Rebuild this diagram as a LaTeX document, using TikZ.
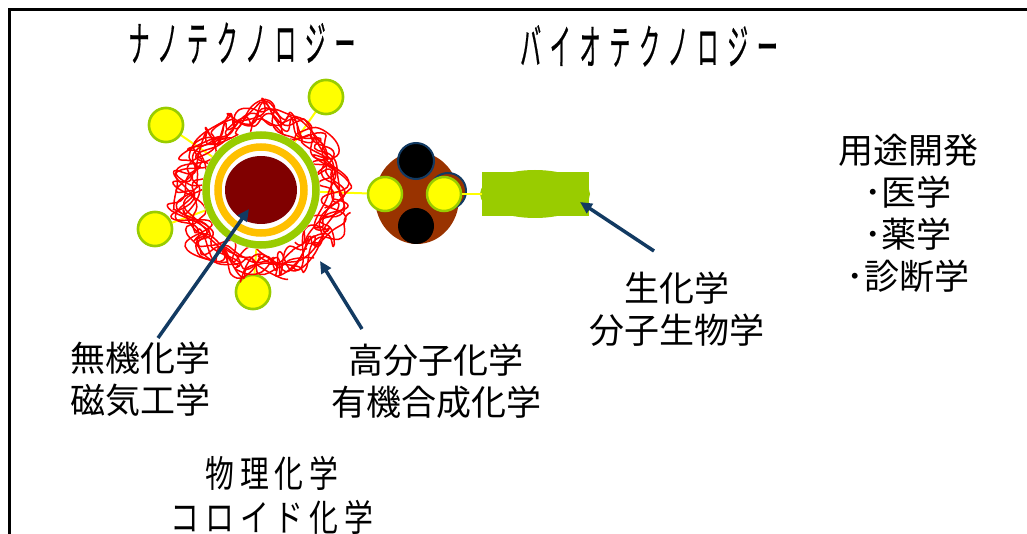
\documentclass[tikz,border=0pt]{standalone}
\usepackage{fontspec}
\newfontfamily\jp{Noto Sans CJK JP}
\newfontfamily\jptitle{Noto Sans CJK JP}[FakeStretch=0.44, LetterSpace=18, FakeBold=0.4]
\newfontfamily\jpnarrow{Noto Sans CJK JP}[FakeStretch=0.78, LetterSpace=16]
\usetikzlibrary{arrows.meta,shapes.geometric}

\definecolor{leaf}{RGB}{153,204,0}
\definecolor{amber}{RGB}{255,192,0}
\definecolor{maroonc}{RGB}{128,0,0}
\definecolor{rust}{RGB}{153,51,0}
\definecolor{navy}{RGB}{18,58,98}
\definecolor{ligand}{RGB}{255,255,0}

\tikzset{
  title/.style={font=\jptitle\fontsize{48}{52}\selectfont, inner sep=0pt},
  label/.style={font=\jp\fontsize{35}{42}\selectfont, align=center, inner sep=0pt},
  narrowlabel/.style={font=\jpnarrow\fontsize{37}{44}\selectfont, align=center, inner sep=0pt},
  ball/.style={circle, fill=ligand, draw=leaf, line width=2.5pt, minimum size=34pt, inner sep=0pt},
  darkball/.style={circle, fill=black, minimum size=36pt, inner sep=0pt},
  link/.style={draw=ligand, line width=2pt},
  pointer/.style={draw=navy, line width=3.5pt, -{Triangle[length=12pt,width=11pt]}},
  scribble/.style={draw=red, line width=1.5pt, line join=round}
}

\begin{document}
\begin{tikzpicture}[x=1pt,y=-1pt]
\useasboundingbox (0,0) rectangle (1027,534);

% frame (open at right and bottom)
\draw[line width=3pt] (9,534) -- (9,10) -- (1027,10);

% headings
\node[title] (nanoT) at (242,43) {ナノテクノロジー};
\node[title] (bioT) at (649,46) {バイオテクノロジー};

% nanoparticle core (named for the connectors)
\node[circle, minimum size=118pt, inner sep=0pt] (core) at (261,190) {};

% ligand balls round the nanoparticle
\node[ball] (s1) at (166,125) {};
\node[ball] (s2) at (326,97) {};
\node[ball] (s3) at (155,229) {};
\node[ball] (s4) at (253,292) {};

% bio particle
\node[ellipse, fill=rust, minimum width=84pt, minimum height=92pt, inner sep=0pt] (bio) at (417,198) {};
\node[circle, fill=rust, draw=navy, line width=2pt, minimum size=36pt, inner sep=0pt] (bioS) at (448,191) {};
\node[darkball, draw=navy, line width=2pt] (bioT1) at (416,161) {};
\node[darkball] (bioB) at (416,226) {};
\node[ball] (bioL) at (385,194) {};
\node[ball] (bioR) at (444,194) {};

% green marker
\node[ellipse, fill=leaf, minimum width=110pt, minimum height=48pt, inner sep=0pt] (blob) at (535,194) {};
\node[rectangle, fill=leaf, minimum width=107pt, minimum height=44pt, inner sep=0pt] (rect) at (535.5,194) {};

% yellow tethers
\draw[link] (s1) -- (core.center);
\draw[link] (s2) -- (core.center);
\draw[link] (s3) -- (core.center);
\draw[link] (s4) -- (core.center);
\draw[link] (core.center) -- (bioL);
\draw[link] (bioR.east) -- (rect.west);

% redraw balls over tethers
\node[ball] at (s1) {};
\node[ball] at (s2) {};
\node[ball] at (s3) {};
\node[ball] at (s4) {};

% polymer shell: tangled red chains
\pgfmathsetseed{4711}
\foreach \k in {0,...,8}
  \draw[scribble] plot[smooth, tension=0.9, domain=0:360, samples=34, variable=\t]
    ({261+(75+15*rand)*cos(\t+13*\k)+8*rand},
     {192+(75+15*rand)*sin(\t+13*\k)+8*rand});

% layered core
\fill[white] (core.center) circle[radius=59];
\draw[leaf, line width=7.5pt] (core.center) circle[radius=55];
\draw[amber, line width=7.5pt] (core.center) circle[radius=43];
\fill[maroonc] (core.center) ellipse[x radius=36, y radius=34];

% arrow ends
\coordinate (a1) at (158,338);
\coordinate (h1) at (249,209);
\coordinate (a2) at (362,329);
\coordinate (h2) at (320,261);
\coordinate (a3) at (654,251);
\coordinate (h3) at (580,202);
\draw[pointer] (a1) -- (h1);
\draw[pointer] (a2) -- (h2);
\draw[pointer] (a3) -- (h3);

% labels
\node[label] (inorg) at (140,379) {無機化学\\磁気工学};
\node[label] (poly) at (436,381) {高分子化学\\有機合成化学};
\node[label] (biochem) at (677,309) {生化学\\分子生物学};
\node[narrowlabel] (phys) at (272,495) {物理化学\\コロイド化学};
\node[label] (apps) at (908,213) {用途開発\\･医学\\･薬学\\･診断学};
\end{tikzpicture}
\end{document}
